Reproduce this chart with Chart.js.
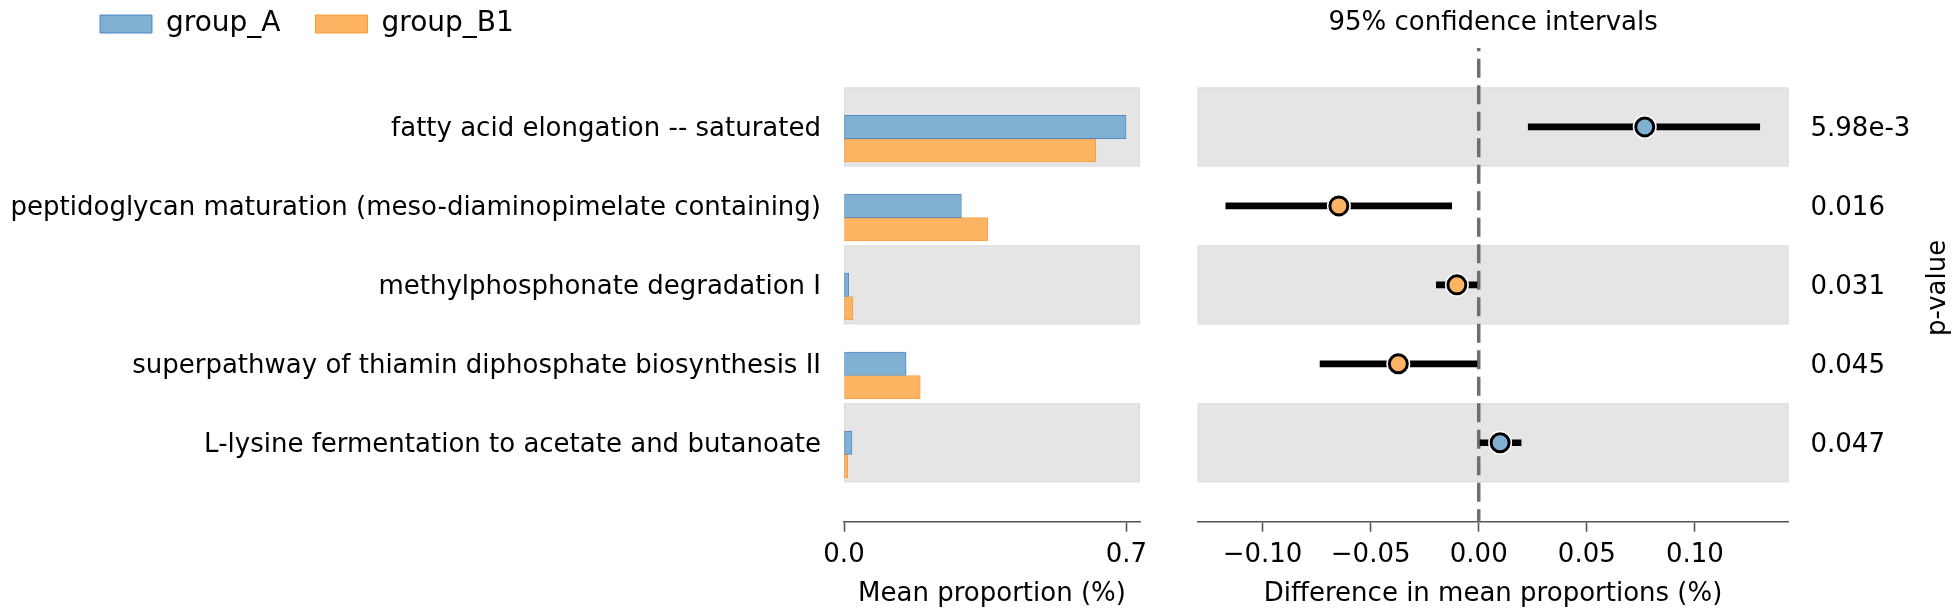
<!DOCTYPE html>
<html><head><meta charset="utf-8">
<script src="https://cdn.jsdelivr.net/npm/chart.js@4"></script>
<style>
html,body{margin:0;padding:0;background:#fff;}
#wrap{position:relative;width:1960px;height:616px;overflow:hidden;}
#c1{position:absolute;left:0;top:0;}
#c2{position:absolute;left:1160px;top:0;}
</style></head><body>
<div id="wrap">
<canvas id="c1" width="1160" height="616"></canvas>
<canvas id="c2" width="800" height="616"></canvas>
</div>
<script>
// ---- data ----
const categories = [
  'fatty acid elongation -- saturated',
  'peptidoglycan maturation (meso-diaminopimelate containing)',
  'methylphosphonate degradation I',
  'superpathway of thiamin diphosphate biosynthesis II',
  'L-lysine fermentation to acetate and butanoate'
];
const groupA  = [0.699, 0.291, 0.0115, 0.154, 0.0197];
const groupB1 = [0.624, 0.356, 0.022, 0.189, 0.009];
const diffMean = [0.0768, -0.0647, -0.0101, -0.0372, 0.0099];
const ciLow    = [0.0229, -0.1170, -0.0196, -0.0734, 0.0006];
const ciHigh   = [0.1300, -0.0125, -0.0008, -0.0008, 0.0196];
const pValues  = ['5.98e-3', '0.016', '0.031', '0.045', '0.047'];
const meanTicks = [0.0, 0.7];
const meanRange = [0, 0.7336];
const diffTicks = [-0.10, -0.05, 0.00, 0.05, 0.10];
const diffTickLabels = ['\u22120.10', '\u22120.05', '0.00', '0.05', '0.10'];
const diffRange = [-0.130, 0.1433];
const seriesNames = ['group_A', 'group_B1'];

// ---- styles ----
const BLUE = '#80b1d3', ORANGE = '#fdb462';
const BLUE_EDGE = 'rgba(60,125,190,0.85)', ORANGE_EDGE = 'rgba(245,145,40,0.85)';
const BAND = '#e5e5e5', AXIS = '#555555';
const FONT = "'DejaVu Sans', sans-serif";
Chart.defaults.font.family = FONT;
Chart.defaults.font.size = 26;
Chart.defaults.color = '#000';

const BAR_SHIFT = 0.148; // bars sit slightly below row centre

const rowTicks = s => { s.ticks = categories.map((_, i) => ({ value: i })); };

const bandsPlugin = {
  id: 'bands',
  beforeDatasetsDraw(chart) {
    const { ctx, chartArea: a } = chart;
    const y = chart.scales.y;
    ctx.save();
    ctx.fillStyle = BAND;
    ctx.strokeStyle = '#dcdcdc';
    ctx.lineWidth = 1;
    categories.forEach((_, i) => {
      if (i % 2) return;
      const t = y.getPixelForValue(i - 0.5), b = y.getPixelForValue(i + 0.5);
      ctx.fillRect(a.left, t, a.right - a.left, b - t);
      ctx.strokeRect(a.left + 0.5, t + 0.5, a.right - a.left - 1, b - t - 1);
    });
    ctx.restore();
  }
};

const legendShift = {
  id: 'legendShift',
  afterUpdate(chart) {
    const l = chart.legend;
    if (l) { l.left += 65; l.right += 65; }
  }
};

const xAxisCommon = {
  grid: { display: true, drawOnChartArea: false, drawTicks: true, tickLength: 10, tickColor: AXIS, tickWidth: 1.6 },
  border: { display: true, color: AXIS, width: 1.6 },
  afterFit: s => { s.height = 94.3; }
};

// ---- left chart: mean proportions ----
new Chart(document.getElementById('c1'), {
  type: 'bar',
  data: {
    datasets: [
      { label: seriesNames[0], data: groupA.map((v, i) => ({ x: v, y: i + BAR_SHIFT })),
        backgroundColor: BLUE, borderColor: BLUE_EDGE, borderWidth: 1, borderSkipped: false, barThickness: 23.4 },
      { label: seriesNames[1], data: groupB1.map((v, i) => ({ x: v, y: i + BAR_SHIFT })),
        backgroundColor: ORANGE, borderColor: ORANGE_EDGE, borderWidth: 1, borderSkipped: false, barThickness: 23.4 }
    ]
  },
  options: {
    indexAxis: 'y',
    responsive: false, maintainAspectRatio: false, animation: false, devicePixelRatio: 1,
    layout: { padding: { top: -25, left: 0, right: 20, bottom: 0 } },
    plugins: {
      legend: {
        position: 'top', align: 'start',
        labels: { boxWidth: 52, boxHeight: 18, padding: 35, font: { size: 28 }, color: '#000' }
      },
      tooltip: { enabled: false }
    },
    scales: {
      x: Object.assign({}, xAxisCommon, {
        type: 'linear', min: meanRange[0], max: meanRange[1],
        afterBuildTicks: s => { s.ticks = meanTicks.map(v => ({ value: v })); },
        ticks: { callback: v => Number(v).toFixed(1), padding: 8, maxRotation: 0, autoSkip: false },
        title: { display: true, text: 'Mean proportion (%)', padding: { top: 0, bottom: 6 } }
      }),
      y: {
        type: 'linear', reverse: true, min: -1, max: 5, offset: false,
        afterBuildTicks: rowTicks,
        ticks: { callback: v => categories[v] ?? '', padding: 23, autoSkip: false, labelOffset: 2.5 },
        grid: { display: false, drawTicks: false, offset: false },
        border: { display: false },
        afterFit: s => { s.width = 844; }
      }
    }
  },
  plugins: [bandsPlugin, legendShift]
});

// ---- right chart: difference with 95% CI ----
const zeroLine = {
  id: 'zeroLine',
  beforeDatasetsDraw(chart) {
    const { ctx, chartArea: a, scales: { x } } = chart;
    const px = x.getPixelForValue(0);
    ctx.save();
    ctx.strokeStyle = '#6e6e6e';
    ctx.lineWidth = 3.5;
    ctx.setLineDash([19, 7.5]);
    ctx.lineDashOffset = 15.8;
    ctx.beginPath();
    ctx.moveTo(px, a.top);
    ctx.lineTo(px, a.bottom);
    ctx.stroke();
    ctx.restore();
  }
};
const pTitle = {
  id: 'pTitle',
  afterDraw(chart) {
    const { ctx, chartArea: a } = chart;
    const y = chart.scales.y;
    ctx.save();
    ctx.translate(y.right - 15, (a.top + a.bottom) / 2 + 3);
    ctx.rotate(-Math.PI / 2);
    ctx.font = '26px ' + FONT;
    ctx.fillStyle = '#000';
    ctx.textAlign = 'center';
    ctx.textBaseline = 'alphabetic';
    ctx.fillText('p-value', 0, 0);
    ctx.restore();
  }
};

new Chart(document.getElementById('c2'), {
  type: 'scatter',
  data: {
    datasets: [
      { type: 'scatter', label: 'difference', order: 1,
        data: diffMean.map((v, i) => ({ x: v, y: i })),
        pointRadius: 9, pointHoverRadius: 9,
        pointBackgroundColor: diffMean.map(v => v > 0 ? BLUE : ORANGE),
        pointBorderColor: '#000', pointBorderWidth: 3 },
      { type: 'scatter', label: 'halo', order: 2,
        data: diffMean.map((v, i) => ({ x: v, y: i })),
        pointRadius: 12, pointHoverRadius: 12, pointBackgroundColor: '#fff', pointBorderWidth: 0 },
      { type: 'bar', label: '95% CI', order: 3, indexAxis: 'y', grouped: false,
        data: ciLow.map((lo, i) => ({ x: [lo, ciHigh[i]], y: i })),
        backgroundColor: '#000', borderWidth: 0, barThickness: 6 }
    ]
  },
  options: {
    responsive: false, maintainAspectRatio: false, animation: false, devicePixelRatio: 1,
    layout: { padding: { top: 0, left: 37.7, right: 0, bottom: 0 } },
    plugins: { legend: { display: false }, tooltip: { enabled: false } },
    scales: {
      x: Object.assign({}, xAxisCommon, {
        type: 'linear', position: 'bottom', min: diffRange[0], max: diffRange[1], offset: false,
        afterBuildTicks: s => { s.ticks = diffTicks.map(v => ({ value: v })); },
        ticks: { callback: (v, i) => diffTickLabels[i], padding: 8, maxRotation: 0, autoSkip: false },
        title: { display: true, text: 'Difference in mean proportions (%)', padding: { top: 0, bottom: 6 } }
      }),
      xTop: {
        type: 'linear', position: 'top', display: true,
        ticks: { display: false }, grid: { display: false, drawTicks: false }, border: { display: false },
        title: { display: true, text: '95% confidence intervals', padding: { top: 8, bottom: 0 } },
        afterFit: s => { s.height = 48; }
      },
      y: {
        type: 'linear', position: 'right', reverse: true, min: -1, max: 5, offset: false,
        afterBuildTicks: rowTicks,
        ticks: { callback: v => pValues[v] ?? '', padding: 22, autoSkip: false, labelOffset: 2.5 },
        grid: { display: false, drawTicks: false, offset: false },
        border: { display: false },
        afterFit: s => { s.width = 171.5; }
      }
    }
  },
  plugins: [bandsPlugin, zeroLine, pTitle]
});
</script>
</body></html>
